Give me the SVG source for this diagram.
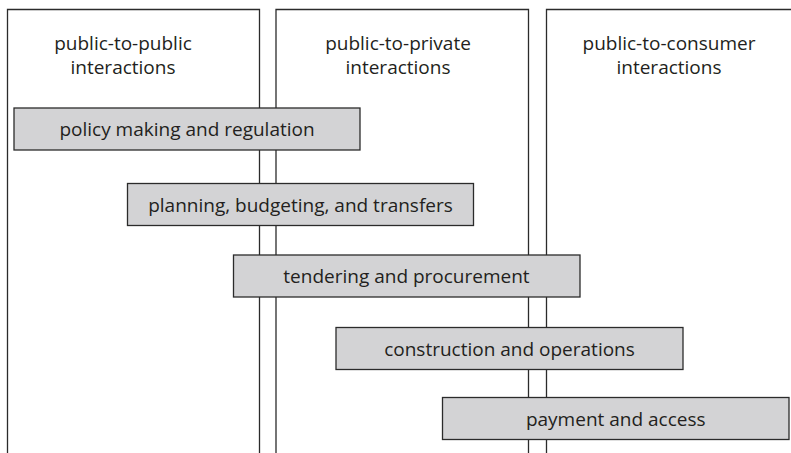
<svg xmlns="http://www.w3.org/2000/svg" width="791" height="453" viewBox="0 0 791 453">
<style>
.col{fill:#ffffff;stroke:#2b2b2b;stroke-width:1.3}
.box{fill:#d3d3d5;stroke:#2b2b2b;stroke-width:1.3}
text{font-family:"Open Sans","Noto Sans","Liberation Sans",sans-serif;font-size:19px;fill:#231f20;text-anchor:middle}
</style>
<rect width="791" height="453" fill="#ffffff"/>
<g id="col-public-to-public">
<path class="col" d="M7.5,460 V9.5 H259.5 V460"/>
<text x="123" y="50">public-to-public</text>
<text x="123" y="73.5">interactions</text>
</g>
<g id="col-public-to-private">
<path class="col" d="M276,460 V9.5 H528.5 V460"/>
<text x="398" y="50">public-to-private</text>
<text x="398" y="73.5">interactions</text>
</g>
<g id="col-public-to-consumer">
<path class="col" d="M546.5,460 V9.5 H800"/>
<text x="669" y="50">public-to-consumer</text>
<text x="669" y="73.5">interactions</text>
</g>
<g id="connectors"></g>
<g id="box-policy">
<rect class="box" x="14" y="108" width="346" height="42"/>
<text x="187" y="136">policy making and regulation</text>
</g>
<g id="box-planning">
<rect class="box" x="127.5" y="183.5" width="346" height="42"/>
<text x="300.5" y="211.5">planning, budgeting, and transfers</text>
</g>
<g id="box-tendering">
<rect class="box" x="233.5" y="255" width="346.5" height="42"/>
<text x="406.5" y="283">tendering and procurement</text>
</g>
<g id="box-construction">
<rect class="box" x="336" y="327.5" width="347" height="42"/>
<text x="509.5" y="355.5">construction and operations</text>
</g>
<g id="box-payment">
<rect class="box" x="442.5" y="397.5" width="346.5" height="42"/>
<text x="615.75" y="425.5">payment and access</text>
</g>
</svg>
